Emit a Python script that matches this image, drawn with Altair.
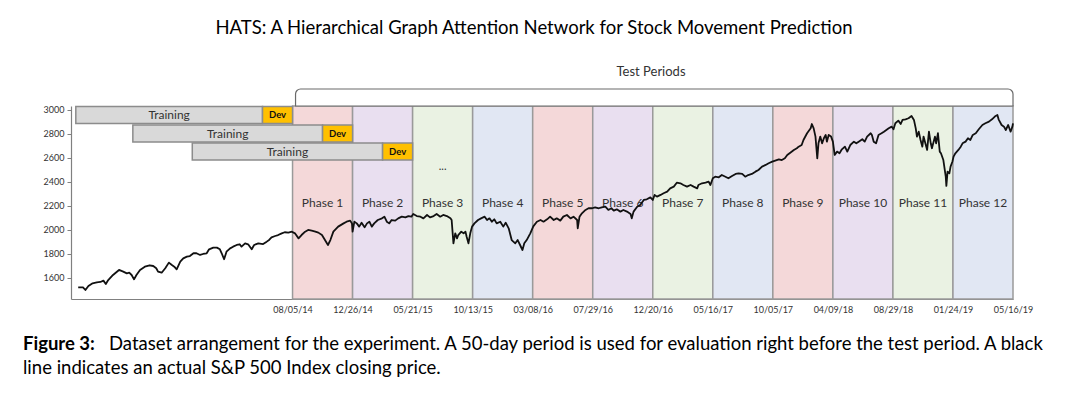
import altair as alt
import pandas as pd

# ---------------- data ----------------
TITLE = "HATS: A Hierarchical Graph Attention Network for Stock Movement Prediction"
TEST_LABEL = "Test Periods"
CAPTION_BOLD = "Figure 3:"
CAPTION_1 = ("Dataset arrangement for the experiment. A 50-day period is used for evaluation "
             "right before the test period. A black")
CAPTION_2 = "line indicates an actual S&P 500 Index closing price."

BOUNDARY_DATES = ["08/05/14", "12/26/14", "05/21/15", "10/13/15", "03/08/16", "07/29/16",
                  "12/20/16", "05/16/17", "10/05/17", "04/09/18", "08/29/18", "01/24/19", "05/16/19"]
BOUNDARY_DAY = [0, 100, 200, 300, 400, 500, 600, 700, 800, 900, 1000, 1100, 1200]

PHASES = ["Phase 1", "Phase 2", "Phase 3", "Phase 4", "Phase 5", "Phase 6",
          "Phase 7", "Phase 8", "Phase 9", "Phase 10", "Phase 11", "Phase 12"]
PHASE_START = [0, 100, 200, 300, 400, 500, 600, 700, 800, 900, 1000, 1100]
PHASE_END = [100, 200, 300, 400, 500, 600, 700, 800, 900, 1000, 1100, 1200]

Y_TICKS = [1600, 1800, 2000, 2200, 2400, 2600, 2800, 3000]

TRAIN_LABEL = ["Training", "Training", "Training"]
DEV_LABEL = ["Dev", "Dev", "Dev"]
TRAIN_START = [-361, -266, -167]
DEV_START = [-50, 50, 150]
DEV_END = [0, 100, 200]

ELLIPSIS = "..."

SP_DAY = [
    -357, -349, -345, -340, -333, -326, -320, -315, -311, -307, -299, -289, -282, -276, -272, -268,
    -264, -260, -254, -246, -238, -232, -227, -224, -218, -212, -206, -201, -197, -193, -187, -182,
    -176, -171, -165, -160, -154, -149, -143, -139, -132, -126, -121, -118, -114, -110, -104, -99,
    -93, -88, -85, -79, -74, -68, -64, -57, -49, -43, -39, -35, -29, -24, -18, -13, -7, -1,
    4, 10, 15, 21, 26, 32, 38, 43, 49, 54, 59, 63, 68, 76, 85, 90, 96, 99,
    100, 103, 107, 111, 115, 120, 124, 128, 132, 136, 142, 149, 153, 157, 161, 165, 171, 176, 182,
    188, 193, 198,
    201, 207, 213, 218, 224, 229, 235, 240, 246, 251, 257, 263, 265, 268, 271, 274, 276, 281, 285,
    288, 290, 293, 296, 299,
    303, 309, 314, 320, 324, 328, 332, 336, 340, 346, 351, 355, 360, 365, 371, 375, 379, 383, 386,
    390, 396,
    401, 407, 413, 418, 424, 429, 435, 440, 446, 451, 457, 463, 468, 474, 475, 478, 482, 488, 493, 499,
    504, 510, 515, 521, 526, 531, 535, 540, 546, 551, 557, 563, 565, 568, 574, 579, 585, 590, 596, 600,
    603, 607, 613, 618, 624, 629, 635, 640, 646, 651, 657, 663, 668, 674, 676, 682, 688, 693, 696, 700,
    704, 710, 715, 721, 726, 732, 738, 743, 749, 754, 759, 765, 771, 776, 782, 788, 793, 799,
    804, 810, 815, 820, 824, 829, 835, 840, 843, 848, 851, 857, 863, 865, 868, 871, 874, 876, 879,
    882, 885, 888, 890, 893, 897, 900,
    903, 907, 911, 915, 920, 924, 929, 935, 939, 943, 949, 953, 957, 963, 965, 968, 972, 976, 981,
    985, 989, 993, 998, 1001,
    1004, 1009, 1013, 1016, 1021, 1026, 1031, 1035, 1038, 1040, 1043, 1046, 1049, 1051, 1054, 1057,
    1060, 1063, 1065, 1070, 1072, 1075, 1078, 1080, 1084, 1088, 1089, 1091, 1094, 1096, 1099, 1101,
    1104, 1109, 1113, 1116, 1121, 1125, 1129, 1133, 1138, 1143, 1149, 1154, 1160, 1165, 1171, 1174,
    1176, 1181, 1185, 1188, 1192, 1196, 1199, 1200,
]
SP_CLOSE = [
    1522, 1522, 1500, 1533, 1556, 1564, 1567, 1578, 1550, 1583, 1625, 1667, 1653, 1639, 1644, 1625,
    1589, 1625, 1667, 1694, 1706, 1700, 1681, 1653, 1644, 1681, 1728, 1708, 1694, 1672, 1736, 1764,
    1778, 1783, 1806, 1806, 1792, 1800, 1806, 1839, 1853, 1853, 1839, 1806, 1756, 1819, 1847, 1861,
    1875, 1881, 1861, 1889, 1881, 1839, 1875, 1889, 1883, 1903, 1917, 1939, 1950, 1958, 1972, 1981, 1978, 1986,
    1972, 1930, 1958, 1986, 2000, 1994, 1986, 1978, 1958, 1916, 1875, 1916, 1986, 2028, 2055, 2069, 2078, 2055,
    1986, 2069, 2055, 2028, 2061, 2022, 2055, 2069, 2028, 2055, 2083, 2097, 2111, 2069, 2055, 2083, 2078, 2097, 2111,
    2105, 2116, 2111,
    2133, 2116, 2111, 2097, 2125, 2105, 2116, 2133, 2111, 2125, 2116, 2097, 2083, 1889, 1972, 1930, 1958, 1986, 1972,
    1986, 1944, 1889, 1972, 2028,
    2055, 2083, 2097, 2111, 2083, 2097, 2069, 2089, 2055, 2069, 2028, 2061, 2014, 1916, 1889, 1916, 1875, 1833, 1889,
    1916, 1972,
    2030, 2069, 2083, 2069, 2089, 2111, 2083, 2097, 2078, 2111, 2125, 2097, 2111, 2083, 2014, 2111, 2139, 2167, 2181, 2181,
    2189, 2181, 2189, 2194, 2167, 2181, 2161, 2172, 2153, 2167, 2153, 2133, 2097, 2153, 2194, 2208, 2250, 2256, 2272, 2250,
    2292, 2278, 2292, 2306, 2319, 2347, 2361, 2394, 2389, 2375, 2361, 2375, 2361, 2347, 2375, 2389, 2394, 2403, 2375, 2431,
    2444, 2439, 2458, 2444, 2431, 2450, 2467, 2472, 2467, 2444, 2458, 2467, 2486, 2500, 2528, 2542, 2556, 2569,
    2578, 2589, 2583, 2597, 2625, 2644, 2667, 2681, 2694, 2708, 2750, 2806, 2847, 2883, 2847, 2778, 2597, 2722, 2778,
    2722, 2764, 2792, 2736, 2792, 2778, 2736,
    2625, 2653, 2639, 2672, 2694, 2653, 2708, 2736, 2722, 2736, 2756, 2736, 2778, 2806, 2792, 2736, 2722, 2792, 2806,
    2819, 2833, 2847, 2861, 2839,
    2889, 2911, 2883, 2917, 2922, 2931, 2950, 2917, 2847, 2778, 2819, 2750, 2694, 2778, 2722, 2667,
    2819, 2722, 2681, 2778, 2722, 2806, 2653, 2639, 2583, 2444, 2367, 2486, 2472, 2528, 2569, 2611,
    2639, 2667, 2694, 2722, 2736, 2764, 2750, 2792, 2806, 2839, 2875, 2889, 2903, 2922, 2950, 2958,
    2922, 2875, 2861, 2833, 2875, 2819, 2861, 2889,
]

# ---------------- layout / style ----------------
W, H = 942, 193
X_DOMAIN = [-369, 1200]
Y_DOMAIN = [1425, 3033]
FONT = "Lato"
PHASE_FILLS = ["#F4D8D9", "#E9DFF0", "#EAF2E3", "#E1E7F3"] * 3
BORDER = "#9a9a9a"
ROW_TOP = [0.5, 19, 37]
ROW_H = 17
CAP_SIZE = 18.5

xs = alt.Scale(domain=X_DOMAIN, nice=False, zero=False)
ys = alt.Scale(domain=Y_DOMAIN, nice=False, zero=False)

label_expr = "[" + ",".join("'%s'" % d for d in BOUNDARY_DATES) + "][round(datum.value / 100)]"
X_AXIS = alt.Axis(values=BOUNDARY_DAY, labelExpr=label_expr, ticks=False, grid=False,
                  labelPadding=6, labelFontSize=9, labelColor="#333333", labelFont=FONT,
                  domainColor="#808080", domainWidth=1.2, title=None, labelOverlap=False,
                  labelFlush=False)
Y_AXIS = alt.Axis(values=Y_TICKS, format="d", grid=False, tickSize=4, tickColor="#808080",
                  labelPadding=3, labelFontSize=9, labelColor="#333333", labelFont=FONT,
                  domainColor="#808080", domainWidth=1.2, title=None)

phase_df = pd.DataFrame({
    "phase": PHASES,
    "start": PHASE_START,
    "end": PHASE_END,
})
phase_df["mid"] = (phase_df["start"] + phase_df["end"]) / 2

sp_df = pd.DataFrame({"day": SP_DAY, "close": SP_CLOSE})

train_df = pd.DataFrame({
    "row": [0, 1, 2],
    "train_label": TRAIN_LABEL,
    "dev_label": DEV_LABEL,
    "train_start": TRAIN_START,
    "dev_start": DEV_START,
    "dev_end": DEV_END,
})
train_df["train_mid"] = (train_df["train_start"] + train_df["dev_start"]) / 2
train_df["dev_mid"] = (train_df["dev_start"] + train_df["dev_end"]) / 2

layers = []

# phase backgrounds
layers.append(
    alt.Chart(phase_df).mark_rect(stroke=BORDER, strokeWidth=1.5).encode(
        x=alt.X("start:Q", scale=xs, axis=X_AXIS),
        x2="end:Q",
        y=alt.value(0),
        y2=alt.value(H),
        color=alt.Color("phase:N", scale=alt.Scale(domain=PHASES, range=PHASE_FILLS), legend=None),
    )
)

# phase labels
layers.append(
    alt.Chart(phase_df).mark_text(font=FONT, fontSize=12, color="#333333", baseline="middle").encode(
        x=alt.X("mid:Q", scale=xs, axis=X_AXIS),
        y=alt.value(97),
        text="phase:N",
    )
)

# ellipsis in phase 3
layers.append(
    alt.Chart(phase_df.iloc[[2]]).mark_text(font=FONT, fontSize=11, color="#333333", baseline="middle").encode(
        x=alt.X("mid:Q", scale=xs, axis=X_AXIS),
        y=alt.value(61),
        text=alt.value(ELLIPSIS),
    )
)

# S&P 500 line
layers.append(
    alt.Chart(sp_df).mark_line(color="#111111", strokeWidth=1.8, strokeJoin="round").encode(
        x=alt.X("day:Q", scale=xs, axis=X_AXIS),
        y=alt.Y("close:Q", scale=ys, axis=Y_AXIS),
    )
)

# training / dev bars
for i, top in enumerate(ROW_TOP):
    base = alt.Chart(train_df).transform_filter(alt.datum.row == i)
    layers.append(
        base.mark_rect(fill="#D9D9D9", stroke="#8c8c8c", strokeWidth=1.5).encode(
            x=alt.X("train_start:Q", scale=xs, axis=X_AXIS),
            x2="dev_start:Q",
            y=alt.value(top),
            y2=alt.value(top + ROW_H),
        )
    )
    layers.append(
        base.mark_rect(fill="#FFC000", stroke="#8c8c8c", strokeWidth=1.5).encode(
            x=alt.X("dev_start:Q", scale=xs, axis=X_AXIS),
            x2="dev_end:Q",
            y=alt.value(top),
            y2=alt.value(top + ROW_H),
        )
    )
    layers.append(
        base.mark_text(font=FONT, fontSize=12, color="#333333", baseline="middle").encode(
            x=alt.X("train_mid:Q", scale=xs, axis=X_AXIS),
            y=alt.value(top + ROW_H / 2),
            text="train_label:N",
        )
    )
    layers.append(
        base.mark_text(font=FONT, fontSize=9.5, fontWeight="bold", color="#111111", baseline="middle").encode(
            x=alt.X("dev_mid:Q", scale=xs, axis=X_AXIS),
            y=alt.value(top + ROW_H / 2),
            text="dev_label:N",
        )
    )

# test-period bracket
bracket_df = pd.DataFrame({"a": [PHASE_START[0] + 5], "b": [PHASE_END[-1]]})
layers.append(
    alt.Chart(bracket_df).mark_rect(fill="white", stroke="#6a6a6a", strokeWidth=1.2,
                                     cornerRadiusTopLeft=5, cornerRadiusTopRight=5).encode(
        x=alt.X("a:Q", scale=xs, axis=X_AXIS),
        x2="b:Q",
        y=alt.value(-17),
        y2=alt.value(0),
    )
)

one = pd.DataFrame({"k": [0]})
# Test Periods label
layers.append(
    alt.Chart(one).mark_text(font=FONT, fontSize=13, color="#333333", baseline="middle").encode(
        x=alt.value(580), y=alt.value(-34), text=alt.value(TEST_LABEL)
    )
)
# title
layers.append(
    alt.Chart(one).mark_text(font=FONT, fontSize=18.5, color="#000000", baseline="middle").encode(
        x=alt.value(463), y=alt.value(-78), text=alt.value(TITLE)
    )
)
# caption
layers.append(
    alt.Chart(one).mark_text(font=FONT, fontSize=CAP_SIZE, fontWeight="bold", color="#000000",
                             baseline="middle", align="left").encode(
        x=alt.value(-48), y=alt.value(238), text=alt.value(CAPTION_BOLD)
    )
)
layers.append(
    alt.Chart(one).mark_text(font=FONT, fontSize=CAP_SIZE, color="#000000",
                             baseline="middle", align="left").encode(
        x=alt.value(38), y=alt.value(238), text=alt.value(CAPTION_1)
    )
)
layers.append(
    alt.Chart(one).mark_text(font=FONT, fontSize=CAP_SIZE, color="#000000",
                             baseline="middle", align="left").encode(
        x=alt.value(-48), y=alt.value(262), text=alt.value(CAPTION_2)
    )
)

chart = alt.layer(*layers).properties(
    width=W,
    height=H,
    autosize=alt.AutoSizeParams(type="none"),
    padding={"left": 63, "top": 98, "right": 50, "bottom": 85},
    background="white",
).configure_view(stroke=None)

chart.save("out.html", embed_options={"renderer": "svg", "actions": False})
